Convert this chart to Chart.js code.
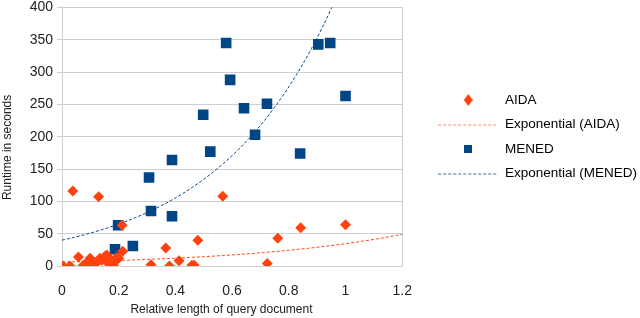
<!DOCTYPE html>
<html>
<head>
<meta charset="utf-8">
<script src="https://cdn.jsdelivr.net/npm/chart.js@4.4.1/dist/chart.umd.min.js"></script>
<style>
  html, body { margin: 0; padding: 0; background: #fff; }
  #wrap { width: 640px; height: 318px; }
</style>
</head>
<body>
<div id="wrap"><canvas id="chart" width="640" height="318"></canvas></div>
<script>
// AIDA runtimes (relative length of query document, seconds)
const aidaLength = [0.005, 0.028, 0.038, 0.058, 0.075, 0.09, 0.099, 0.105, 0.11, 0.122, 0.129, 0.134,
    0.14, 0.152, 0.158, 0.163, 0.175, 0.181, 0.187, 0.193, 0.2, 0.212, 0.214, 0.314, 0.366, 0.379,
    0.413, 0.458, 0.466, 0.479, 0.567, 0.724, 0.761, 0.842, 1.0];
const aidaSeconds = [0, 0, 116, 14, 1, 6, 12, 0, 3, 5, 107, 12,
    9, 15, 17, 4, 9, 1, 7, 13, 12, 63, 23, 2, 28, 0,
    8, 1, 1, 40, 108, 4, 43, 59, 64];

// MENED runtimes
const menedLength = [0.187, 0.198, 0.25, 0.307, 0.314, 0.388, 0.388, 0.498, 0.523, 0.579, 0.593,
    0.642, 0.681, 0.723, 0.84, 0.904, 0.946, 1.0];
const menedSeconds = [26, 63, 31, 137, 85, 164, 77, 234, 177, 345, 288,
    244, 203, 251, 174, 343, 345, 263];

// exponential trend lines y = a * e^(b x)
const aidaTrend = { a: 6, b: 1.75 };
const menedTrend = { a: 40, b: 2.42 };

const xTicks = [0, 0.2, 0.4, 0.6, 0.8, 1, 1.2];
const yTicks = [0, 50, 100, 150, 200, 250, 300, 350, 400];

const aidaColor = '#ff420e';
const menedColor = '#004586';
const gridColor = '#cfcfcf';
const font = 'Liberation Sans, Arial, sans-serif';
// trailing spaces nudge the centred axis titles to where the original has them
const titlePad = '\u2002\u2002\u2002 ';

function toPoints(xs, ys) {
    return xs.map((x, i) => ({ x: x, y: ys[i] }));
}

function trendPoints(t) {
    const pts = [];
    for (let i = 0; i <= 120; i++) {
        const x = i / 100;
        pts.push({ x: x, y: t.a * Math.exp(t.b * x) });
    }
    return pts;
}

// small canvases used as legend markers
function markerCanvas(w, h, drawFn) {
    const c = document.createElement('canvas');
    c.width = w;
    c.height = h;
    drawFn(c.getContext('2d'));
    return c;
}

const diamondMark = markerCanvas(9, 12, ctx => {
    ctx.fillStyle = aidaColor;
    ctx.beginPath();
    ctx.moveTo(4.5, 0);
    ctx.lineTo(9, 6);
    ctx.lineTo(4.5, 12);
    ctx.lineTo(0, 6);
    ctx.closePath();
    ctx.fill();
});
const squareMark = markerCanvas(8, 8, ctx => {
    ctx.fillStyle = menedColor;
    ctx.fillRect(0, 0, 8, 8);
});
function dashMark(color) {
    return markerCanvas(60, 2, ctx => {
        ctx.strokeStyle = color;
        ctx.lineWidth = 1;
        ctx.setLineDash([3, 2]);
        ctx.beginPath();
        ctx.moveTo(0, 1);
        ctx.lineTo(60, 1);
        ctx.stroke();
    });
}

const legendItems = [
    { text: 'AIDA', pointStyle: diamondMark },
    { text: 'Exponential (AIDA)', pointStyle: dashMark('#ff8a6a') },
    { text: 'MENED', pointStyle: squareMark },
    { text: 'Exponential (MENED)', pointStyle: dashMark('#3a6ea5') }
];

const ctx = document.getElementById('chart').getContext('2d');
new Chart(ctx, {
    type: 'scatter',
    data: {
        datasets: [
            {
                label: 'AIDA',
                data: toPoints(aidaLength, aidaSeconds),
                pointStyle: 'rectRot',
                pointRadius: 5.5,
                backgroundColor: aidaColor,
                borderColor: aidaColor,
                borderWidth: 0,
                order: 0
            },
            {
                label: 'Exponential (AIDA)',
                type: 'line',
                data: trendPoints(aidaTrend),
                borderColor: aidaColor,
                borderWidth: 1,
                borderDash: [3, 2],
                pointRadius: 0,
                fill: false,
                order: 3
            },
            {
                label: 'MENED',
                data: toPoints(menedLength, menedSeconds),
                pointStyle: 'rect',
                pointRadius: 7.5,
                backgroundColor: menedColor,
                borderColor: menedColor,
                borderWidth: 0,
                order: 1
            },
            {
                label: 'Exponential (MENED)',
                type: 'line',
                data: trendPoints(menedTrend),
                borderColor: menedColor,
                borderWidth: 1,
                borderDash: [3, 2],
                pointRadius: 0,
                fill: false,
                order: 2
            }
        ]
    },
    options: {
        responsive: false,
        animation: false,
        layout: { padding: { top: 6, right: -7, left: 0, bottom: 0 } },
        plugins: {
            tooltip: { enabled: false },
            legend: {
                position: 'right',
                fullSize: false,
                maxWidth: 260,
                labels: {
                    usePointStyle: true,
                    pointStyleWidth: 60,
                    padding: 11,
                    color: '#000',
                    font: { family: font, size: 13.5 },
                    generateLabels: () => legendItems.map((item, i) => ({
                        text: item.text,
                        pointStyle: item.pointStyle,
                        fillStyle: 'transparent',
                        strokeStyle: 'transparent',
                        lineWidth: 0,
                        hidden: false,
                        datasetIndex: i,
                        fontColor: '#000'
                    }))
                }
            }
        },
        scales: {
            x: {
                type: 'linear',
                min: xTicks[0],
                max: xTicks[xTicks.length - 1],
                ticks: {
                    stepSize: xTicks[1] - xTicks[0],
                    padding: 9,
                    color: '#222',
                    font: { family: font, size: 14 },
                    callback: v => String(Math.round(v * 10) / 10)
                },
                grid: { display: false },
                border: { display: true, color: gridColor },
                title: {
                    display: true,
                    text: 'Relative length of query document' + titlePad,
                    color: '#222',
                    font: { family: font, size: 12 },
                    padding: { top: 10, bottom: 1 }
                },
                afterFit: s => { s.height = 52; s.paddingLeft = 0; s.paddingRight = 0; }
            },
            y: {
                type: 'linear',
                min: yTicks[0],
                max: yTicks[yTicks.length - 1],
                ticks: {
                    stepSize: yTicks[1] - yTicks[0],
                    padding: 4,
                    color: '#222',
                    font: { family: font, size: 14 }
                },
                grid: { color: gridColor, tickLength: 5, tickColor: gridColor },
                border: { display: true, color: gridColor },
                title: {
                    display: true,
                    text: 'Runtime in seconds' + titlePad,
                    color: '#222',
                    font: { family: font, size: 12 },
                    padding: { top: 0, bottom: 2 }
                },
                afterFit: s => { s.width = 62; s.paddingTop = 0; s.paddingBottom = 0; }
            },
            yRight: {
                type: 'linear',
                position: 'right',
                ticks: { display: false },
                grid: { display: false },
                border: { display: true, color: gridColor },
                afterFit: s => { s.width = 25; s.paddingTop = 0; s.paddingBottom = 0; }
            }
        }
    }
});
</script>
</body>
</html>
